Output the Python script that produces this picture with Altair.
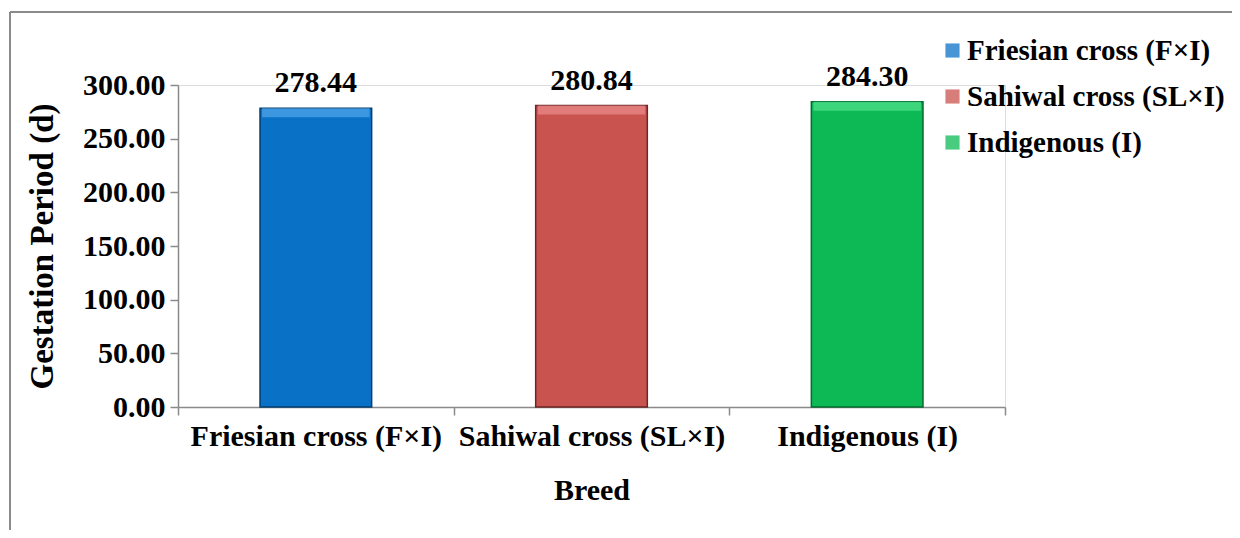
import altair as alt
import pandas as pd

breeds = ["Friesian cross (F×I)", "Sahiwal cross (SL×I)", "Indigenous (I)"]
values = [278.44, 280.84, 284.30]
colors = ["#0A72C6", "#C9534F", "#0CB955"]
dark = ["#04406F", "#6E2624", "#066B30"]
light = ["#4FA4E8", "#E88A88", "#4FE08A"]

df = pd.DataFrame({"breed": breeds, "value": values,
                   "label": [f"{v:.2f}" for v in values],
                   "dark": dark, "light": light})

FONT = "Liberation Serif"
FS = 30

x = alt.X("breed:N", sort=breeds, title="Breed",
          scale=alt.Scale(paddingInner=0, paddingOuter=0),
          axis=alt.Axis(labelAngle=0, tickBand="extent", domainColor="#8A8A8A",
                        tickColor="#8A8A8A", tickSize=8, domainWidth=1.5, tickWidth=1.5,
                        labelFont=FONT, labelFontSize=FS, labelFontWeight="bold",
                        labelColor="black", labelPadding=6, labelLimit=400,
                        titleFont=FONT, titleFontSize=FS, titleFontWeight="bold",
                        titleColor="black", titlePadding=24))
y = alt.Y("value:Q", title="Gestation Period (d)",
          scale=alt.Scale(domain=[0, 300], nice=False, zero=True),
          axis=alt.Axis(values=[0, 50, 100, 150, 200, 250, 300], format=".2f",
                        grid=False, domainColor="#8A8A8A", tickColor="#8A8A8A",
                        tickSize=8, domainWidth=1.5, tickWidth=1.5,
                        labelFont=FONT, labelFontSize=FS, labelFontWeight="bold",
                        labelColor="black", labelPadding=5,
                        titleFont=FONT, titleFontSize=33, titleFontWeight="bold",
                        titleColor="black", titlePadding=23))

color = alt.Color("breed:N", sort=breeds, title=None,
                  scale=alt.Scale(domain=breeds, range=colors),
                  legend=alt.Legend(orient="none", legendX=754, legendY=-49,
                                    symbolType="square", symbolSize=200,
                                    symbolStrokeWidth=0, symbolOffset=6,
                                    labelFont=FONT, labelFontSize=29,
                                    labelFontWeight="bold", labelColor="black",
                                    labelLimit=400, rowPadding=16, labelOffset=0))

base = alt.Chart(df)

bars = base.mark_bar(width=alt.RelativeBandSize(0.405), strokeWidth=1.5).encode(
    x=x, y=y, color=color, stroke=alt.Stroke("dark:N", scale=None))

bevel = base.mark_bar(width=alt.RelativeBandSize(0.39), y2Offset=9, opacity=0.75).encode(
    x=x, y="value:Q", y2="value:Q", color=alt.Color("light:N", scale=None))

labels = base.mark_text(font=FONT, fontSize=FS, fontWeight="bold", color="black",
                        dy=-25).encode(x=x, y="value:Q", text="label:N")

frame_top = base.mark_rule(color="#8A8A8A", strokeWidth=1.5).encode(
    x=alt.value(-168), x2=alt.value(1080), y=alt.value(-73))
frame_left = base.mark_rule(color="#8A8A8A", strokeWidth=1.5).encode(
    x=alt.value(-168), y=alt.value(-73), y2=alt.value(480))

chart = alt.layer(frame_top, frame_left, bars, bevel, labels).properties(
    width=827, height=322,
    autosize=alt.AutoSizeParams(type="none"),
    padding={"left": 170, "top": 77, "right": 227, "bottom": 123},
).configure_view(stroke=None).configure(background="white")

chart.save("out.html", embed_options={"renderer": "svg", "actions": False})
